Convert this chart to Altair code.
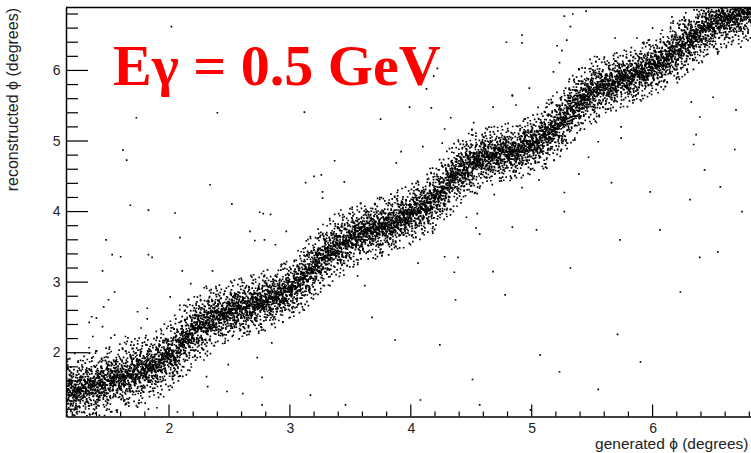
import altair as alt
import pandas as pd

# ---- band centre line (generated phi -> reconstructed phi)
CX = [1.2, 1.3, 1.4, 1.5, 1.6, 1.7, 1.8, 1.9, 2.0, 2.1, 2.2, 2.3, 2.4, 2.5, 2.6, 2.7, 2.8, 2.9,
      3.0, 3.1, 3.2, 3.3, 3.4, 3.5, 3.6, 3.7, 3.8, 3.9, 4.0, 4.1, 4.2, 4.3, 4.4, 4.5, 4.6, 4.7,
      4.8, 4.9, 5.0, 5.1, 5.2, 5.3, 5.4, 5.5, 5.6, 5.7, 5.8, 5.9, 6.0, 6.1, 6.2, 6.3, 6.4, 6.5,
      6.6, 6.7, 6.8]
CY = [1.45, 1.50, 1.55, 1.60, 1.65, 1.71, 1.76, 1.83, 1.95, 2.12, 2.30, 2.42, 2.52, 2.58, 2.63,
      2.68, 2.74, 2.80, 2.90, 3.05, 3.22, 3.38, 3.52, 3.62, 3.70, 3.75, 3.80, 3.88, 3.96, 4.06,
      4.20, 4.38, 4.55, 4.68, 4.76, 4.80, 4.84, 4.88, 4.95, 5.06, 5.20, 5.38, 5.56, 5.70, 5.78,
      5.84, 5.90, 5.97, 6.05, 6.15, 6.28, 6.42, 6.56, 6.66, 6.73, 6.78, 6.84]
# band half-width (vertical)
CW = [0.28] * 8 + [0.30] * 4 + [0.25] * 7 + [0.28] * 4 + [0.25] * 7 + [0.28] * 4 + \
     [0.24] * 5 + [0.28] * 5 + [0.24] * 6 + [0.27] * 4 + [0.24] * 3

# hand-typed scatter offsets inside one band cell (dx in 1/1000, dy in 1/100 of half-width)
DX = [-48, 12, 33, -7, -29, 41, 5, -38, 22, -15,
      47, -2, -44, 28, 9, -21, 36, -33, 17, -9,
      44, -26, 1, 31, -41, 14, -18, 39, -5, 25,
      -36, 8, 46, -12, -31, 20, -47, 35, 3, -24,
      11, 42, -16, 27, -39, 6, -27, 49, -10, 18,
      -43, 30, -3, 38, -20, 15, -34, 24, -8, 43]
DY = [12, -45, 78, -8, 33, -120, 5, 61, -27, -70,
      140, -15, 22, -52, 90, 0, -33, 47, -98, 18,
      -6, 66, -160, 29, -41, 108, -19, 3, 55, -84,
      37, -62, 10, 125, -37, -2, 73, -112, 26, -11,
      -55, 41, 84, -24, 15, -145, 58, -4, 97, -30,
      8, -77, 44, -16, 170, -48, 20, -91, 35, -1]

# isolated points away from the band
OUT_X = [2.02, 1.73, 2.40, 3.12, 3.75, 3.99, 4.17, 4.13, 4.19, 4.22, 4.33,
         5.27, 5.34, 5.45, 5.32, 4.79, 4.92, 4.92, 5.21, 5.25, 5.29, 5.69, 5.87, 6.00, 6.16,
         6.08, 4.98, 4.84, 4.87, 5.18, 5.23, 5.39, 6.32, 6.50, 6.69, 6.39, 6.36, 6.34, 5.74,
         5.74, 5.55, 6.79, 6.73,
         3.92, 3.88, 4.28, 4.26, 4.10, 4.68, 4.84, 4.52, 5.66, 5.39, 5.27, 5.27, 5.04, 4.84,
         4.57, 4.54, 4.46, 4.55, 5.47,
         3.37, 3.13, 3.20, 3.26, 3.45, 3.27, 3.27, 2.75, 2.78, 2.84, 2.97, 2.71, 2.79, 2.88,
         3.62, 3.56, 4.06, 4.28, 4.36, 4.39, 4.68, 4.92, 5.06, 4.83, 4.69,
         1.53, 1.60, 1.83, 1.45, 2.11, 2.36, 2.18, 1.55, 1.50, 1.46, 1.36, 1.34, 1.40, 1.74,
         1.82, 1.82, 2.01, 2.09, 1.77, 1.45, 1.37, 1.52, 1.55, 1.64, 1.66, 1.74, 1.34, 1.22,
         1.90, 2.31, 2.32, 2.48, 2.61, 2.77, 2.73, 2.85, 2.77, 2.07, 1.83, 1.74, 1.90, 2.49,
         1.62, 1.65, 1.68, 1.83, 1.48, 2.05, 2.09, 1.86, 2.52, 2.67, 2.34,
         4.51, 5.07, 5.23, 5.71, 5.90, 6.23, 6.39, 6.54, 5.32, 5.98, 6.31, 6.56, 6.74, 5.55,
         4.99, 4.57, 4.08, 3.87, 4.24, 3.46, 3.17, 3.68, 4.37, 4.78, 5.73, 6.06, 6.68, 6.43]
OUT_Y = [6.62, 5.33, 5.40, 5.41, 5.31, 5.48, 5.47, 5.74, 5.92, 6.03, 5.33,
         6.77, 6.80, 6.84, 6.62, 6.40, 6.50, 6.39, 6.35, 6.28, 6.43, 6.46, 6.46, 6.60, 6.76,
         6.57, 5.75, 5.65, 5.51, 5.98, 6.11, 6.01, 5.55, 5.62, 5.44, 5.34, 5.09, 4.95, 5.20,
         5.04, 4.99, 6.53, 6.33,
         4.85, 4.69, 5.17, 4.97, 4.92, 5.48, 5.64, 5.26, 4.41, 4.53, 4.27, 4.00, 3.74, 3.78,
         3.68, 3.77, 3.92, 3.97, 4.77,
         4.72, 4.41, 4.50, 4.52, 4.42, 4.28, 4.19, 3.99, 3.97, 3.96, 3.72, 3.59, 3.60, 3.53,
         2.95, 3.09, 3.27, 3.36, 3.14, 3.35, 3.15, 4.34, 4.45, 4.48, 4.24,
         3.39, 3.36, 3.39, 3.16, 3.16, 3.16, 2.98, 2.86, 2.75, 2.65, 2.51, 2.43, 2.49, 2.58,
         2.63, 2.48, 2.79, 2.67, 2.35, 2.37, 2.23, 2.21, 2.25, 2.23, 2.21, 2.17, 2.07, 1.99,
         2.21, 1.66, 1.52, 1.45, 1.42, 1.65, 1.93, 2.14, 1.26, 1.16, 1.20, 1.23, 1.22, 1.83,
         4.87, 4.73, 4.09, 4.02, 3.60, 3.98, 3.63, 3.35, 4.11, 3.72, 4.38,
         1.62, 1.97, 1.73, 2.26, 1.87, 2.86, 3.35, 3.43, 3.20, 4.28, 4.17, 4.35, 4.00, 1.48,
         1.19, 1.26, 1.33, 2.18, 2.11, 1.26, 1.40, 2.50, 2.75, 2.82, 3.60, 3.74, 4.88, 4.59]

MAJOR = [2, 3, 4, 5, 6]
MINOR = [1.2, 1.4, 1.6, 1.8, 2.2, 2.4, 2.6, 2.8, 3.2, 3.4, 3.6, 3.8,
         4.2, 4.4, 4.6, 4.8, 5.2, 5.4, 5.6, 5.8, 6.2, 6.4, 6.6, 6.8]
TITLE = ["Eγ = 0.5 GeV"]
X_TITLE = "generated ϕ (degrees)"
Y_TITLE = "reconstructed ϕ (degrees)"

# ---- build the point table
rows = []
n = len(CX)
for i in range(n):
    j0, j1 = max(i - 1, 0), min(i + 1, n - 1)
    slope = (CY[j1] - CY[j0]) / (CX[j1] - CX[j0])
    s = (i * 13) % 60
    for k in range(60):
        for dx, dy in ((DX[k], DY[(k + s) % 60]),
                       (-DX[k], DY[(k + s + 17) % 60]),
                       (DX[(k + 31) % 60], -DY[(k + s + 29) % 60])):
            ddx = dx / 1000.0
            rows.append({"x": CX[i] + ddx, "y": CY[i] + slope * ddx + dy / 100.0 * CW[i]})
for x, y in zip(OUT_X, OUT_Y):
    rows.append({"x": x, "y": y})
pts = pd.DataFrame(rows)

W, H = 685, 409
XS = alt.Scale(domain=[1.148, 1.148 + W / 120.9], nice=False, zero=False)
YS = alt.Scale(domain=[1.096, 6.892], nice=False, zero=False)
LABEL_FONT = "Liberation Sans"
XA = alt.Axis(values=MAJOR, format="d", ticks=False, tickSize=0, grid=False,
              labelPadding=5, labelFontSize=14, labelFont=LABEL_FONT, labelColor="#222",
              domainColor="#000", domainWidth=1.5,
              title=X_TITLE, titleFont=LABEL_FONT, titleFontSize=15.5, titleFontWeight="normal",
              titleColor="#222", titleAlign="right", titleAnchor="end", titleBaseline="alphabetic",
              titleX=682, titleY=32)
YA = alt.Axis(values=MAJOR, format="d", ticks=False, tickSize=0, grid=False,
              labelPadding=6, labelFontSize=14, labelFont=LABEL_FONT, labelColor="#222",
              domainColor="#000", domainWidth=1.5,
              title=Y_TITLE, titleFont=LABEL_FONT, titleFontSize=16, titleFontWeight="normal",
              titleColor="#222", titleAngle=-90, titleAlign="right", titleBaseline="bottom",
              titleX=-46, titleY=0)

points = alt.Chart(pts).mark_square(size=2.8, color="#000", opacity=1, clip=True).encode(
    x=alt.X("x:Q", scale=XS, axis=XA),
    y=alt.Y("y:Q", scale=YS, axis=YA),
)

maj = pd.DataFrame({"x": MAJOR, "y": MAJOR})
mnr = pd.DataFrame({"x": MINOR, "y": MINOR})

ytick_major = alt.Chart(maj).mark_rule(color="#000", strokeWidth=1.2).encode(
    y=alt.Y("y:Q", scale=YS, axis=YA), x=alt.value(0), x2=alt.value(22))
ytick_minor = alt.Chart(mnr).mark_rule(color="#000", strokeWidth=1.2).encode(
    y=alt.Y("y:Q", scale=YS, axis=YA), x=alt.value(0), x2=alt.value(12))
xtick_major = alt.Chart(maj).mark_rule(color="#000", strokeWidth=1.2).encode(
    x=alt.X("x:Q", scale=XS, axis=XA), y=alt.value(H), y2=alt.value(H - 12))
xtick_minor = alt.Chart(mnr).mark_rule(color="#000", strokeWidth=1.2).encode(
    x=alt.X("x:Q", scale=XS, axis=XA), y=alt.value(H), y2=alt.value(H - 5))

# top frame line of the plot box
top_line = alt.Chart(pd.DataFrame({"t": TITLE})).mark_rule(color="#000", strokeWidth=1.5).encode(
    x=alt.value(0), x2=alt.value(W), y=alt.value(0))

title = alt.Chart(pd.DataFrame({"t": TITLE})).mark_text(
    font="Liberation Serif", fontWeight="bold", fontSize=58, color="#ff0000",
    align="left", baseline="alphabetic").encode(
    text="t:N", x=alt.value(47), y=alt.value(77.5))

chart = alt.layer(points, ytick_major, ytick_minor, xtick_major, xtick_minor, top_line, title).properties(
    width=W, height=H,
    autosize=alt.AutoSizeParams(type="none"),
    padding={"left": 66, "top": 7.5, "right": 0, "bottom": 36},
    background="#ffffff",
).configure_view(strokeWidth=0)

chart.save("out.html", embed_options={"renderer": "svg", "actions": False})
